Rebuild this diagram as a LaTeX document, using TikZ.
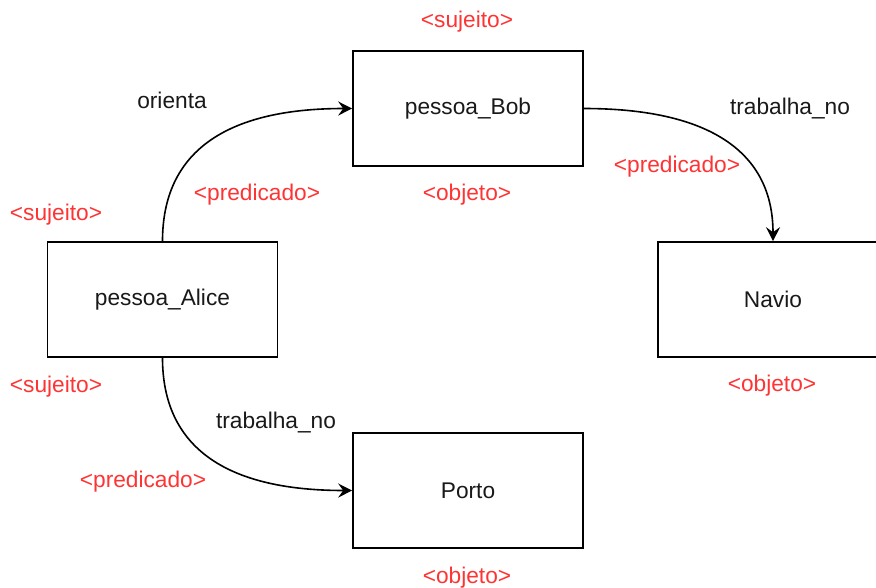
\documentclass[tikz,border=0pt]{standalone}
\usepackage{fontspec}
\setmainfont{Liberation Sans}
\usetikzlibrary{arrows.meta}
\definecolor{rolered}{HTML}{FF3333}
\tikzset{
  entity/.style={draw=black, line width=1.6pt, minimum width=230pt, minimum height=115pt,
                 inner sep=0pt, font=\fontsize{22.7}{27}\selectfont, text=black!90},
  role/.style={text=rolered, font=\fontsize{22.7}{27}\selectfont, inner sep=0pt, yshift=-2pt},
  relname/.style={text=black!90, font=\fontsize{22.7}{27}\selectfont, inner sep=0pt, yshift=-1pt},
  link/.style={line width=1.6pt, -{Stealth[length=14pt, width=14pt, inset=5pt]}}
}
\begin{document}
\begin{tikzpicture}[x=1pt, y=-1pt]
  \useasboundingbox (0,0) rectangle (876,587);
  \clip (0,0) rectangle (876,587);

  % resources
  \node[entity] (bob)   at (468,108.5) {pessoa\_Bob};
  \node[entity] (alice) at (162.5,299.5) {pessoa\_Alice};
  \node[entity] (navio) at (773,299.5) {Navio};
  \node[entity] (porto) at (468,490.5) {Porto};

  % triple roles
  \node[role] (bobsuj)   at (467,20)  {<sujeito>};
  \node[role] (bobobj)   at (467,193) {<objeto>};
  \node[role] (alsuj1)   at (56,213)  {<sujeito>};
  \node[role] (alsuj2)   at (56,385)  {<sujeito>};
  \node[role] (pred1)    at (257,193) {<predicado>};
  \node[role] (pred2)    at (677,165) {<predicado>};
  \node[role] (pred3)    at (143,480) {<predicado>};
  \node[role] (naviobj)  at (772,384) {<objeto>};
  \node[role] (portobj)  at (467,576) {<objeto>};

  % property names
  \node[relname] (orienta) at (172,99)  {orienta};
  \node[relname] (trab1)   at (790,108) {trabalha\_no};
  \node[relname] (trab2)   at (276,422) {trabalha\_no};

  % properties
  \draw[link] (alice.north) .. controls +(0,-89) and +(-127,0) .. (bob.west);
  \draw[link] (bob.east) .. controls +(126,0) and +(0,-89) .. (navio.north);
  \draw[link] (alice.south) .. controls +(0,89) and +(-127,0) .. (porto.west);
\end{tikzpicture}
\end{document}
